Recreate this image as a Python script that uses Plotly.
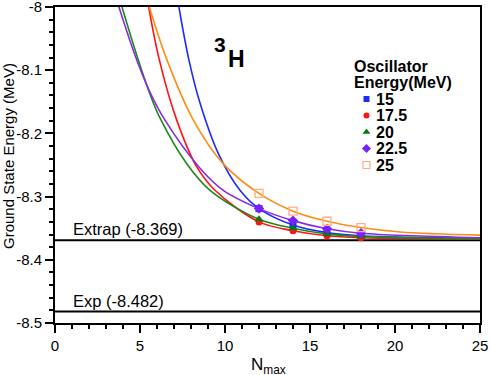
import plotly.graph_objects as go

# measured points (N_max = 12, 14, 16, 18) for each oscillator energy
nmax_pts = [12, 14, 16, 18]
e_15 = [-8.319, -8.345, -8.357, -8.362]
e_175 = [-8.340, -8.354, -8.362, -8.365]
e_20 = [-8.336, -8.350, -8.359, -8.363]
e_225 = [-8.319, -8.338, -8.351, -8.358]
e_25 = [-8.295, -8.323, -8.339, -8.349]

# fit curves
curve_15_n = [7.29, 7.88, 8.53, 9.61, 10.88, 12, 14, 16, 18, 25]
curve_15_e = [-8.000, -8.084, -8.152, -8.232, -8.290, -8.319, -8.345, -8.357, -8.362, -8.366]
curve_175_n = [5.51, 6.14, 7.16, 8.34, 9.41, 12, 14, 16, 18, 25]
curve_175_e = [-8.000, -8.084, -8.179, -8.253, -8.290, -8.340, -8.354, -8.362, -8.365, -8.367]
curve_20_n = [3.94, 4.90, 5.59, 6.18, 7.75, 9.12, 12, 14, 16, 18, 25]
curve_20_e = [-8.000, -8.084, -8.138, -8.176, -8.248, -8.290, -8.336, -8.350, -8.359, -8.363, -8.367]
curve_225_n = [3.76, 4.81, 5.59, 6.47, 8.53, 9.90, 12, 14, 16, 18, 25]
curve_225_e = [-8.000, -8.084, -8.135, -8.179, -8.255, -8.290, -8.319, -8.338, -8.351, -8.358, -8.365]
curve_25_n = [5.55, 6.59, 8.14, 9.86, 12, 14, 16, 18, 20.3, 25]
curve_25_e = [-8.000, -8.084, -8.179, -8.247, -8.295, -8.323, -8.339, -8.349, -8.356, -8.361]

extrap_e = -8.369
exp_e = -8.482

y_ticks = [-8.0, -8.1, -8.2, -8.3, -8.4, -8.5]
y_labels = ["-8", "-8.1", "-8.2", "-8.3", "-8.4", "-8.5"]
x_ticks = [0, 5, 10, 15, 20, 25]
x_labels = ["0", "5", "10", "15", "20", "25"]

# name, points, curve N, curve E, line colour, marker colour, symbol, size
series = [
    ("15", e_15, curve_15_n, curve_15_e, "#1a2cff", "#1a2cff", "square", 7),
    ("17.5", e_175, curve_175_n, curve_175_e, "#ff1414", "#ff1414", "circle", 7),
    ("20", e_20, curve_20_n, curve_20_e, "#1a8a1a", "#0a7a0a", "triangle-up", 8),
    ("22.5", e_225, curve_225_n, curve_225_e, "#8a2be2", "#7a20ff", "diamond", 8),
    ("25", e_25, curve_25_n, curve_25_e, "#ff8c10", "#ffae80", "square-open", 8),
]

FONT = "Liberation Sans, Arial, sans-serif"
L, R, T, B = 55, 11, 7, 52
W, H = 491, 375


def px_x(p):
    return (p - L) / (W - L - R)


def px_y(p):
    return (H - B - p) / (H - T - B)


fig = go.Figure()

# reference lines
for e in [extrap_e, exp_e]:
    fig.add_trace(go.Scatter(x=[0, 25], y=[e, e], mode="lines",
                             line=dict(color="black", width=2), showlegend=False, hoverinfo="skip"))

for name, pts, cn, ce, lc, mc, sym, sz in series:
    fig.add_trace(go.Scatter(x=cn, y=ce, mode="lines",
                             line=dict(color=lc, width=1.6, shape="spline", smoothing=1.0),
                             showlegend=False, hoverinfo="skip"))
for name, pts, cn, ce, lc, mc, sym, sz in series:
    fig.add_trace(go.Scatter(x=nmax_pts, y=pts, mode="markers", name=name, showlegend=False,
                             marker=dict(symbol=sym, size=sz, color=mc,
                                         line=dict(width=1.3 if sym == "square-open" else 0, color=mc))))

# legend (hand placed, tight line spacing like the original)
item_py = [99, 115.5, 132, 148.5, 165]
for (name, pts, cn, ce, lc, mc, sym, sz), py in zip(series, item_py):
    fig.add_trace(go.Scatter(x=[px_x(366.5)], y=[px_y(py)], xaxis="x2", yaxis="y2",
                             mode="markers", showlegend=False, hoverinfo="skip",
                             marker=dict(symbol=sym, size=sz - 1, color=mc,
                                         line=dict(width=1.2 if sym == "square-open" else 0, color=mc))))
    fig.add_annotation(xref="paper", yref="paper", x=px_x(374), y=px_y(py), text="<b>%s</b>" % name,
                       showarrow=False, xanchor="left", yanchor="middle",
                       font=dict(size=16, color="black", family=FONT))
fig.add_annotation(xref="paper", yref="paper", x=px_x(352), y=px_y(66), text="<b>Oscillator</b>",
                   showarrow=False, xanchor="left", yanchor="middle", font=dict(size=16, family=FONT))
fig.add_annotation(xref="paper", yref="paper", x=px_x(352), y=px_y(82.5), text="<b>Energy(MeV)</b>",
                   showarrow=False, xanchor="left", yanchor="middle", font=dict(size=16, family=FONT))

fig.add_annotation(x=0.95, y=extrap_e, text="Extrap (-8.369)", showarrow=False,
                   xanchor="left", yanchor="bottom", font=dict(size=16.5, color="black", family=FONT))
fig.add_annotation(x=0.95, y=exp_e, text="Exp (-8.482)", showarrow=False,
                   xanchor="left", yanchor="bottom", font=dict(size=16.5, color="black", family=FONT))

# nucleus label
fig.add_annotation(x=9.7, y=-8.060, text="<b>3</b>", showarrow=False,
                   xanchor="center", yanchor="middle", font=dict(size=21, color="black", family=FONT))
fig.add_annotation(x=10.7, y=-8.0815, text="<b>H</b>", showarrow=False,
                   xanchor="center", yanchor="middle", font=dict(size=23, color="black", family=FONT))

# axis titles
fig.add_annotation(xref="paper", yref="paper", x=px_x(268), y=px_y(353), text="N<sub>max</sub>",
                   showarrow=False, xanchor="center", yanchor="top", font=dict(size=17, family=FONT))
fig.add_annotation(xref="paper", yref="paper", x=px_x(8), y=px_y(156), text="Ground State Energy (MeV)",
                   textangle=-90, showarrow=False, xanchor="center", yanchor="middle",
                   font=dict(size=15, family=FONT))

fig.update_layout(
    width=W, height=H,
    margin=dict(l=L, r=R, t=T, b=B),
    plot_bgcolor="white", paper_bgcolor="white",
    font=dict(family=FONT, size=15, color="black"),
    showlegend=False,
    xaxis=dict(
        range=[0, 25], tickvals=x_ticks, ticktext=x_labels, automargin=False,
        ticks="outside", ticklen=8, tickwidth=1.5, tickcolor="black",
        minor=dict(dtick=1, ticks="outside", ticklen=4, tickwidth=1.5, tickcolor="black"),
        showline=True, linecolor="black", linewidth=2, mirror=True,
        showgrid=False, zeroline=False, tickfont=dict(size=15), ticklabeloverflow="allow",
    ),
    yaxis=dict(
        range=[-8.5, -8.0], tickvals=y_ticks, ticktext=y_labels, automargin=False,
        ticks="outside", ticklen=8, tickwidth=1.5, tickcolor="black",
        minor=dict(dtick=0.02, ticks="outside", ticklen=4, tickwidth=1.5, tickcolor="black"),
        showline=True, linecolor="black", linewidth=2, mirror=True,
        showgrid=False, zeroline=False, tickfont=dict(size=15), ticklabeloverflow="allow",
    ),
    xaxis2=dict(range=[0, 1], overlaying="x", visible=False, fixedrange=True),
    yaxis2=dict(range=[0, 1], overlaying="y", visible=False, fixedrange=True),
)

# page body has a default 8px margin; drop it so the figure sits at the corner
fig.write_html("out.html", config={"displayModeBar": False},
               post_script="document.body.style.margin='0';document.body.style.overflow='hidden';")
